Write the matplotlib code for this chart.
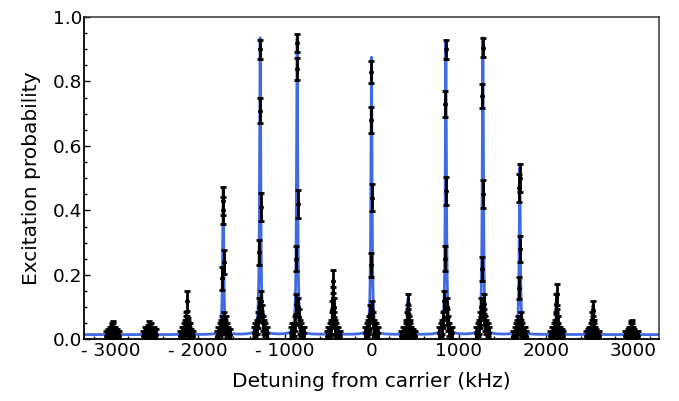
import numpy as np
import matplotlib
matplotlib.use("Agg")
import matplotlib.pyplot as plt
from matplotlib.ticker import MultipleLocator, FixedLocator, FormatStrFormatter

# Sideband positions (kHz) found in the scan
PEAK_CENTERS = [-2980, -2555, -2130, -1710, -1285, -860, -445, -5,
                415, 850, 1275, 1700, 2125, 2540, 2985]

# Detuning of each scan point relative to its peak centre (kHz)
SCAN_OFFSETS = [-75, -55, -40, -28, -18, -10, -5, 0, 5, 10, 18, 28, 40, 55, 75]

# Measured excitation probability, one row per peak
P_M2980 = [0.01, 0.015, 0.01, 0.02, 0.015, 0.025, 0.03, 0.035, 0.03, 0.02, 0.015, 0.02, 0.01, 0.015, 0.01]
P_M2555 = [0.01, 0.02, 0.015, 0.01, 0.025, 0.02, 0.035, 0.03, 0.025, 0.03, 0.02, 0.015, 0.01, 0.02, 0.015]
P_M2130 = [0.01, 0.02, 0.02, 0.03, 0.04, 0.05, 0.06, 0.12, 0.05, 0.045, 0.035, 0.02, 0.03, 0.015, 0.01]
P_M1710 = [0.01, 0.02, 0.03, 0.04, 0.05, 0.19, 0.40, 0.43, 0.24, 0.06, 0.04, 0.05, 0.03, 0.02, 0.015]
P_M1285 = [0.02, 0.03, 0.04, 0.06, 0.10, 0.27, 0.71, 0.90, 0.41, 0.12, 0.08, 0.05, 0.04, 0.03, 0.02]
P_M860 = [0.02, 0.03, 0.03, 0.05, 0.11, 0.25, 0.84, 0.92, 0.42, 0.10, 0.07, 0.04, 0.03, 0.02, 0.02]
P_M445 = [0.01, 0.02, 0.03, 0.04, 0.06, 0.09, 0.13, 0.18, 0.10, 0.06, 0.04, 0.03, 0.02, 0.02, 0.01]
P_M5 = [0.02, 0.03, 0.04, 0.05, 0.08, 0.23, 0.68, 0.83, 0.44, 0.09, 0.06, 0.04, 0.03, 0.03, 0.02]
P_415 = [0.01, 0.02, 0.02, 0.03, 0.04, 0.06, 0.08, 0.11, 0.07, 0.05, 0.04, 0.03, 0.02, 0.015, 0.01]
P_850 = [0.02, 0.03, 0.04, 0.06, 0.12, 0.25, 0.73, 0.90, 0.46, 0.10, 0.07, 0.05, 0.03, 0.02, 0.02]
P_1275 = [0.02, 0.03, 0.04, 0.06, 0.10, 0.22, 0.755, 0.905, 0.45, 0.11, 0.07, 0.05, 0.04, 0.03, 0.02]
P_1700 = [0.01, 0.02, 0.03, 0.04, 0.05, 0.16, 0.47, 0.50, 0.28, 0.06, 0.04, 0.03, 0.02, 0.02, 0.01]
P_2125 = [0.01, 0.02, 0.02, 0.03, 0.04, 0.06, 0.11, 0.14, 0.07, 0.05, 0.03, 0.02, 0.02, 0.015, 0.01]
P_2540 = [0.01, 0.015, 0.02, 0.02, 0.03, 0.04, 0.06, 0.09, 0.05, 0.04, 0.03, 0.02, 0.015, 0.01, 0.01]
P_2985 = [0.01, 0.01, 0.015, 0.02, 0.02, 0.03, 0.035, 0.04, 0.03, 0.02, 0.02, 0.015, 0.01, 0.01, 0.01]

PROBS = [P_M2980, P_M2555, P_M2130, P_M1710, P_M1285, P_M860, P_M445, P_M5,
         P_415, P_850, P_1275, P_1700, P_2125, P_2540, P_2985]

SHOTS = 200  # repetitions per point, sets the binomial error bar

# Lorentzian fit parameters
FIT_HEIGHTS = [0.03, 0.03, 0.07, 0.45, 0.92, 0.92, 0.17, 0.86,
               0.11, 0.91, 0.92, 0.52, 0.13, 0.09, 0.03]
FIT_WIDTH = 7.5       # kHz, half width
FIT_BASELINE = 0.015

BLUE = "#4169E1"

plt.rcParams.update({
    "font.family": "DejaVu Sans",
    "font.size": 13,
})

fig = plt.figure(figsize=(6.79, 4.01), dpi=100)
ax = fig.add_axes([0.1237, 0.1534, 0.8468, 0.8042])

# fitted spectrum
x_fit = np.linspace(-3310, 3300, 40001)
y_fit = np.full_like(x_fit, FIT_BASELINE)
for c, h in zip(PEAK_CENTERS, FIT_HEIGHTS):
    y_fit += h / (1 + ((x_fit - c) / FIT_WIDTH) ** 2)
ax.plot(x_fit, y_fit, color=BLUE, lw=2.0, zorder=2)

# measured points
for c, probs in zip(PEAK_CENTERS, PROBS):
    x = np.array(SCAN_OFFSETS) + c
    p = np.array(probs)
    err = np.sqrt(p * (1 - p) / SHOTS) + 0.008
    ax.errorbar(x, p, yerr=err, fmt="o", ms=2.5, color="black",
                ecolor="black", elinewidth=2.0, capsize=2.2, capthick=2.0,
                zorder=3)

ax.set_xlim(-3310, 3300)
ax.set_ylim(0, 1.0)
ax.xaxis.set_major_locator(FixedLocator([-3000, -2000, -1000, 0, 1000, 2000, 3000]))
ax.set_xticklabels(["- 3000", "- 2000", "- 1000", "0", "1000", "2000", "3000"])
ax.xaxis.set_minor_locator(MultipleLocator(200))
ax.yaxis.set_major_locator(MultipleLocator(0.2))
ax.yaxis.set_minor_locator(MultipleLocator(0.05))
ax.yaxis.set_major_formatter(FormatStrFormatter("%.1f"))

ax.tick_params(which="both", direction="in", top=False, right=False,
               labelsize=13.3, pad=1.5, width=1.0)
ax.tick_params(which="major", length=4.5)
ax.tick_params(which="minor", length=2.5)
for side in ["left", "bottom"]:
    ax.spines[side].set_linewidth(1.3)
for side in ["top", "right"]:
    ax.spines[side].set_linewidth(1.1)
    ax.spines[side].set_color("#333333")

ax.set_xlabel("Detuning from carrier (kHz)", fontsize=14.5, labelpad=9)
ax.set_ylabel("Excitation probability", fontsize=14.5, labelpad=8)

fig.savefig("out.png", dpi=100, facecolor="white")
